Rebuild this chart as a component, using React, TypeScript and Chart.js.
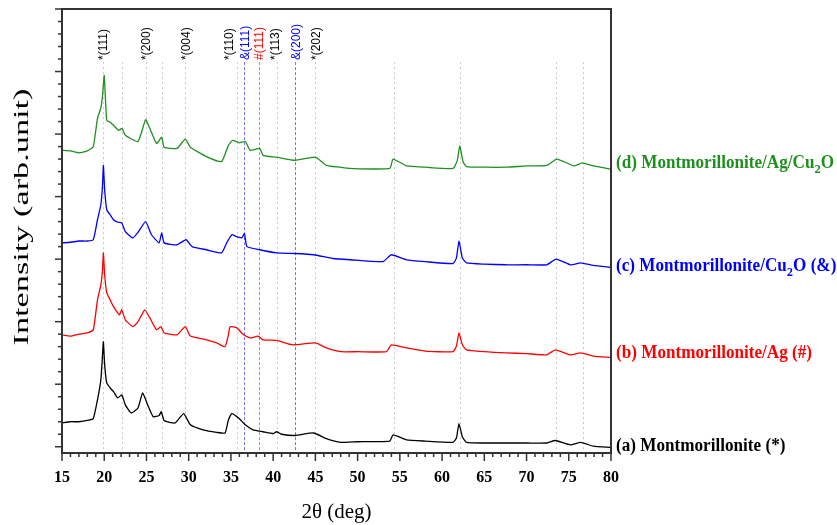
import { useEffect, useRef } from "react";
import { Chart, registerables } from "chart.js";
Chart.register(...registerables);

// (a) Montmorillonite
const thetaA = [15,16,17,18,18.7,19.2,19.6,19.8,19.9,20.05,20.3,20.7,21.1,21.6,22.07,22.5,23.2,24.0,24.55,25.2,25.8,26.5,26.75,27.1,28.4,29.4,30.2,31.7,33.3,34.3,34.7,35.1,35.9,36.7,37.6,38.8,40.0,40.4,41.0,42.6,44.8,46.3,48,50,53.8,54.2,55.8,58,61.3,61.7,62.0,62.4,62.9,65,67.6,70,72.4,73.4,75.2,76.4,77.9,79.9];
const intensityA = [38,40,40,42,45,75,107,147,168,131,102,94,88,78,83,67,54,62,86,65,48,50,56,42,38,53,35,27,23,22,43,53,46,35,27,24,21,24,20,18,22,13,7,8,9,19,11,9,7,14,37,16,7,6,6,6,6,10,3,7,1,-1];

// (b) Montmorillonite/Ag
const thetaB = [15,16,17,18,18.7,19.2,19.6,19.8,19.9,20.05,20.3,20.7,21.1,21.8,22.07,22.5,23.4,24.0,24.8,25.4,26.2,26.7,27.1,28.6,29.6,30.2,32.1,33.3,34.3,34.7,34.9,35.7,36.5,37.3,38.2,38.8,40.4,42.3,45,46.3,48,50,53.4,54.0,55.8,58,61.3,61.7,62.0,62.4,62.9,65,67.6,70,72.4,73.4,75.2,76.4,77.9,79.9];
const intensityB = [179,177,180,182,187,235,259,283,310,275,246,235,224,211,219,203,192,200,219,206,187,192,182,179,192,177,171,166,160,179,192,190,179,174,177,171,170,163,166,158,152,152,152,163,158,153,152,161,182,163,155,152,150,149,147,155,147,150,145,143];

// (c) Montmorillonite/Cu2O
const thetaC = [15,16,17,18,18.7,19.2,19.6,19.8,19.9,20.05,20.3,20.7,21.1,21.6,22.07,22.5,23.4,24.0,24.9,25.6,26.5,26.8,27.1,28.6,29.7,30.4,32.1,33.9,34.5,35.1,35.7,36.3,36.6,36.9,38.4,40.4,42.6,44.8,47.1,49.1,53.0,54.0,55.8,58,61.3,61.7,62.0,62.4,62.9,65,67.6,70,72.4,73.5,75.2,76.4,77.9,79.9];
const intensityC = [326,327,329,329,331,363,387,419,450,411,379,371,363,359,358,344,334,343,360,339,326,342,326,323,331,320,315,310,326,339,336,334,341,320,315,310,309,307,301,299,296,307,299,296,293,302,329,302,294,292,291,291,291,300,291,294,290,287];

// (d) Montmorillonite/Ag/Cu2O
const thetaD = [15,16,17,18,18.7,19.2,19.6,19.8,20.0,20.15,20.3,20.7,21.1,21.7,22.1,22.5,24.0,24.9,25.4,26.2,26.8,27.1,28.6,29.6,30.2,32.1,33.9,34.7,35.2,36.0,36.7,37.3,38.4,38.8,40.4,42.6,45.0,46.3,47.9,49.1,53.8,54.2,55.8,58,61.3,61.8,62.1,62.5,62.9,65,67.6,70,72.4,73.6,75.6,76.6,77.9,79.9];
const intensityD = [474,473,470,473,480,525,542,562,594,554,522,519,514,506,509,498,488,523,509,485,495,479,477,492,479,464,456,482,490,486,488,474,477,466,463,458,463,450,447,445,445,460,449,447,445,458,481,455,448,447,447,449,450,460,449,454,449,444];

// reference lines (2θ)
const grayLines = [19.9, 22.07, 24.9, 26.8, 29.56, 35.7, 40.4, 45.0, 54.3, 62.1, 73.5, 76.7];
const blueLines = [36.6, 42.6];
const redLines = [38.35];

// peak annotations
const peakLabels = ["*(111)", "*(200)", "*(004)", "*(110)", "&(111)", "#(111)", "*(113)", "&(200)", "*(202)"];
const peakPositions = [19.9, 25.0, 29.8, 34.9, 36.7, 38.4, 40.3, 42.8, 45.15];
const peakColors = ["#000", "#000", "#000", "#000", "#0000ff", "#ff0000", "#000", "#0000ff", "#000"];

// series labels at right
const seriesPrefix = ["(a) Montmorillonite (*)", "(b) Montmorillonite/Ag (#)", "(c) Montmorillonite/Cu", "(d) Montmorillonite/Ag/Cu"];
const seriesSuffix = ["", "", "O (&)", "O"];
const seriesHasSub = [false, false, true, true];
const seriesLabelLevels = [1, 149, 288, 453];
const seriesColors = ["#000000", "#ff0000", "#0000ff", "#1f8f1f"];

const xTicks = [15, 20, 25, 30, 35, 40, 45, 50, 55, 60, 65, 70, 75, 80];

const SERIF = '"Liberation Serif", "Times New Roman", serif';
const SANS = '"Liberation Sans", Arial, sans-serif';

const decor = {
  id: "decor",
  beforeDatasetsDraw(chart: any) {
    const { ctx, scales } = chart;
    const x = scales.x, y = scales.y;
    const y0 = y.getPixelForValue(-10);
    const y1 = y.getPixelForValue(615);
    const draw = (v: number, color: string, dash: number[]) => {
      const px = Math.round(x.getPixelForValue(v)) + 0.5;
      ctx.save();
      ctx.strokeStyle = color;
      ctx.lineWidth = 1;
      ctx.setLineDash(dash);
      ctx.beginPath();
      ctx.moveTo(px, y1);
      ctx.lineTo(px, y0);
      ctx.stroke();
      ctx.restore();
    };
    grayLines.forEach((v) => draw(v, "#c8c8c8", [2, 3]));
    blueLines.forEach((v) => draw(v, "#7070ff", [3, 2]));
    redLines.forEach((v) => draw(v, "#ff7070", [3, 2]));
  },
  afterDraw(chart: any) {
    const { ctx, chartArea, scales } = chart;
    const x = scales.x, y = scales.y;
    const { left, right, top, bottom } = chartArea;
    ctx.save();
    // frame
    ctx.strokeStyle = "#333";
    ctx.lineWidth = 2;
    ctx.strokeRect(left, top, right - left, bottom - top);
    // x ticks
    ctx.lineWidth = 1.5;
    for (let v = 15; v <= 80; v++) {
      const px = x.getPixelForValue(v);
      const len = v % 5 === 0 ? 8 : 4;
      ctx.beginPath();
      ctx.moveTo(px, bottom);
      ctx.lineTo(px, bottom + len);
      ctx.stroke();
    }
    // y ticks
    for (let v = 0; v <= 700; v += 20) {
      const py = y.getPixelForValue(v);
      const len = v % 100 === 0 ? 7 : 4;
      ctx.beginPath();
      ctx.moveTo(left - len, py);
      ctx.lineTo(left, py);
      ctx.stroke();
    }
    // peak labels (rotated)
    ctx.font = `12px ${SANS}`;
    ctx.textAlign = "left";
    ctx.textBaseline = "middle";
    peakLabels.forEach((t, i) => {
      ctx.save();
      ctx.translate(x.getPixelForValue(peakPositions[i]), 60);
      ctx.rotate(-Math.PI / 2);
      ctx.fillStyle = peakColors[i];
      ctx.fillText(t, 0, 0);
      ctx.restore();
    });
    // series labels
    const fs = 18;
    const subFs = Math.round(fs * 0.7);
    const measure = (i: number) => {
      ctx.font = `bold ${fs}px ${SERIF}`;
      let w = ctx.measureText(seriesPrefix[i]).width;
      if (seriesHasSub[i]) {
        w += ctx.measureText(seriesSuffix[i]).width;
        ctx.font = `bold ${subFs}px ${SERIF}`;
        w += ctx.measureText("2").width;
      }
      return w;
    };
    const sx = 218 / measure(3);
    seriesPrefix.forEach((t, i) => {
      const py = y.getPixelForValue(seriesLabelLevels[i]);
      ctx.save();
      ctx.translate(right + 5, py);
      ctx.scale(sx, 1);
      let px = 0;
      ctx.fillStyle = seriesColors[i];
      ctx.font = `bold ${fs}px ${SERIF}`;
      ctx.textAlign = "left";
      ctx.textBaseline = "middle";
      ctx.fillText(t, px, 0);
      px += ctx.measureText(t).width;
      if (seriesHasSub[i]) {
        ctx.font = `bold ${subFs}px ${SERIF}`;
        ctx.fillText("2", px, 6);
        px += ctx.measureText("2").width;
        ctx.font = `bold ${fs}px ${SERIF}`;
        ctx.fillText(seriesSuffix[i], px, 0);
      }
      ctx.restore();
    });
    // axis titles
    ctx.fillStyle = "#000";
    ctx.font = `21px ${SERIF}`;
    ctx.textAlign = "center";
    ctx.textBaseline = "middle";
    ctx.fillText("2θ (deg)", (left + right) / 2, 512);
    ctx.save();
    ctx.translate(22, 217);
    ctx.rotate(-Math.PI / 2);
    ctx.font = `22px ${SERIF}`;
    const title = "Intensity (arb.unit)";
    const w = ctx.measureText(title).width;
    ctx.scale(257 / w, 1);
    ctx.fillText(title, 0, 0);
    ctx.restore();
    ctx.restore();
  },
};

export default function App() {
  const ref = useRef<HTMLCanvasElement | null>(null);
  useEffect(() => {
    if (!ref.current) return;
    const mk = (xs: number[], ys: number[]) => xs.map((v, i) => ({ x: v, y: ys[i] }));
    const chart = new Chart(ref.current, {
      type: "line",
      data: {
        datasets: [
          { label: "(a)", data: mk(thetaA, intensityA), borderColor: seriesColors[0] },
          { label: "(b)", data: mk(thetaB, intensityB), borderColor: seriesColors[1] },
          { label: "(c)", data: mk(thetaC, intensityC), borderColor: seriesColors[2] },
          { label: "(d)", data: mk(thetaD, intensityD), borderColor: seriesColors[3] },
        ].map((d) => ({ ...d, borderWidth: 1.3, pointRadius: 0, tension: 0.15, fill: false })),
      },
      options: {
        animation: false,
        responsive: false,
        devicePixelRatio: 1,
        layout: { padding: { left: 0, top: 9, right: 226, bottom: 0 } },
        plugins: { legend: { display: false }, tooltip: { enabled: false } },
        events: [],
        scales: {
          x: {
            type: "linear",
            min: 15,
            max: 80,
            afterBuildTicks: (s: any) => { s.ticks = xTicks.map((v) => ({ value: v })); },
            ticks: {
              font: { family: SERIF, size: 16, weight: "bold" },
              color: "#000",
              padding: 15,
              maxRotation: 0,
              autoSkip: false,
            },
            grid: { display: false, drawTicks: false },
            border: { display: false },
            afterFit: (s: any) => { s.height = 72; },
          },
          y: {
            type: "linear",
            min: -10,
            max: 700,
            ticks: { display: false },
            grid: { display: false, drawTicks: false },
            border: { display: false },
            afterFit: (s: any) => { s.width = 62; },
          },
        },
      },
      plugins: [decor],
    } as any);
    return () => chart.destroy();
  }, []);
  return (
    <div style={{ position: "fixed", left: 0, top: 0, width: 837, height: 525, background: "#fff" }}>
      <canvas ref={ref} width={837} height={525} style={{ display: "block" }} />
    </div>
  );
}
